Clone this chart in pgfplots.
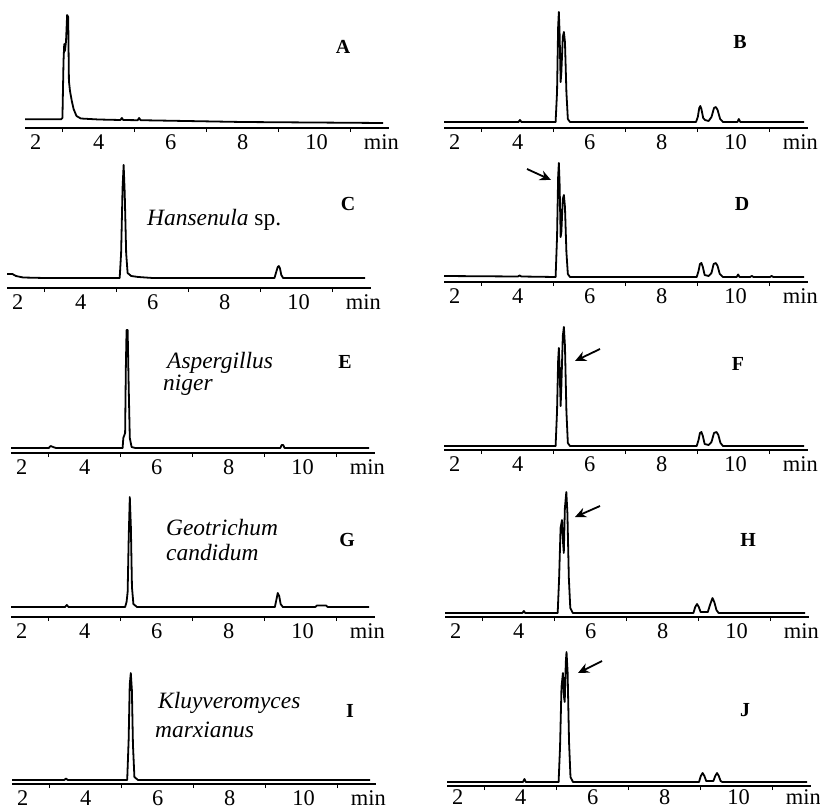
\documentclass[border=0pt]{standalone}
\usepackage{pgfplots}
\pgfplotsset{compat=1.18}
\usepackage{fontspec}
\setmainfont{Liberation Serif}
\usetikzlibrary{arrows.meta}
\pgfplotsset{
  chrom/.style={
    scale only axis, width=363.6bp, xmin=1.95, xmax=12.05, ymax=130,
    axis x line=bottom, axis y line=none,
    x axis line style={-, line width=1.5bp},
    xtick={3,5,7,9,11}, xticklabels={},
    major tick length=4bp, tick align=outside,
    major tick style={line width=1.1bp, black},
    extra x ticks={2.25,4,6,8,10.05,11.85},
    extra x tick labels={2,4,6,8,10,min},
    extra x tick style={major tick length=0pt, tick style={draw=none}},
    xticklabel style={font=\fontsize{22.5}{26}\selectfont, anchor=base, yshift=-21bp, inner sep=1bp},
    clip=false, anchor=south west,
  },
  sig/.style={black, line width=1.8bp, no markers, line join=round},
}
\tikzset{arr/.style={-{Stealth[length=11bp,width=10bp]}, line width=1.8bp, black}}
\newcommand{\spc}{\fontsize{23.5}{28}\selectfont\itshape}
\newcommand{\lab}{\fontsize{20}{22}\selectfont\bfseries}
\begin{document}
\begin{tikzpicture}
\useasboundingbox (0,0) rectangle (820bp,-810bp);
% A
\begin{axis}[chrom, at={(25bp,-128bp)}, ymin=-7, height=137bp]
\addplot[sig] coordinates {(1.95,1.7)(2.95,1.7)(2.99,3)(3.02,60)(3.04,77)(3.06,70)(3.09,80)(3.12,106)(3.15,104)(3.17,40)(3.2,30)(3.25,20)(3.3,12)(3.38,5)(3.5,2.5)(4.0,1.5)(4.6,1)(4.64,3)(4.68,1)(5.08,0.8)(5.12,3)(5.16,0.8)(8,-1)(11.9,-2)};
\end{axis}
% B
\begin{axis}[chrom, at={(444bp,-128bp)}, ymin=-6, height=136bp]
\addplot[sig] coordinates {(1.95,0)(4.02,0)(4.06,2)(4.1,0)(5.05,0)(5.09,30)(5.12,95)(5.14,110)(5.16,90)(5.19,40)(5.21,50)(5.25,85)(5.28,90)(5.31,80)(5.35,30)(5.39,3)(5.45,0)(8.95,0)(9.0,5)(9.04,14)(9.07,16)(9.1,13)(9.15,4)(9.2,2)(9.3,1)(9.38,5)(9.45,14)(9.5,15)(9.55,12)(9.62,3)(9.7,0)(10.1,0)(10.14,3)(10.18,0)(11.95,0)};
\end{axis}
% C
\begin{axis}[chrom, at={(7bp,-288bp)}, ymin=-10, height=140bp]
\addplot[sig] coordinates {(1.95,4)(2.1,4)(2.2,2)(2.4,0.5)(3,0)(5.08,0)(5.12,25)(5.16,90)(5.19,113)(5.22,85)(5.26,25)(5.3,5)(5.4,2)(5.6,1)(6,0)(9.38,0)(9.42,5)(9.47,11)(9.5,12)(9.53,10)(9.57,3)(9.62,0)(11.9,0)};
\end{axis}
% D
\begin{axis}[chrom, at={(444bp,-282bp)}, ymin=-5, height=135bp]
\addplot[sig] coordinates {(1.95,1)(4.0,0.5)(4.05,1.5)(4.1,0.5)(5.05,0)(5.09,40)(5.12,100)(5.14,114)(5.16,95)(5.19,40)(5.21,45)(5.25,78)(5.28,82)(5.31,70)(5.35,25)(5.39,3)(5.45,0)(8.97,0)(9.02,6)(9.06,13)(9.1,14)(9.14,10)(9.19,2)(9.3,1)(9.38,4)(9.44,13)(9.5,14)(9.55,11)(9.61,3)(9.7,0)(10.08,0)(10.12,2.5)(10.16,0)(10.45,0)(10.5,1)(10.55,0)(11.0,0)(11.05,1)(11.1,0)(11.95,0)};
\end{axis}
% E
\begin{axis}[chrom, at={(11bp,-453bp)}, ymin=-5, height=135bp]
\addplot[sig] coordinates {(1.95,0)(3.0,0)(3.05,2)(3.12,1)(3.2,0)(5.05,0)(5.07,10)(5.1,13)(5.12,15)(5.14,80)(5.16,118)(5.19,118)(5.22,60)(5.25,10)(5.3,1)(5.4,0)(9.43,0)(9.47,3)(9.51,3)(9.55,0)(11.9,0)};
\end{axis}
% F
\begin{axis}[chrom, at={(444bp,-450bp)}, ymin=-4, height=134bp]
\addplot[sig] coordinates {(1.95,0)(5.05,0)(5.09,35)(5.12,85)(5.14,98)(5.16,80)(5.19,40)(5.21,60)(5.25,110)(5.28,119)(5.31,100)(5.35,35)(5.39,3)(5.45,0)(8.97,0)(9.02,6)(9.06,13)(9.1,14)(9.14,10)(9.19,2)(9.3,1)(9.38,4)(9.45,13)(9.52,14)(9.57,11)(9.63,3)(9.7,0)(11.95,0)};
\end{axis}
% G
\begin{axis}[chrom, at={(11bp,-617bp)}, ymin=-10, height=140bp]
\addplot[sig] coordinates {(1.95,0)(3.45,0)(3.5,2)(3.55,0)(5.12,0)(5.16,5)(5.19,15)(5.22,70)(5.25,110)(5.28,80)(5.31,20)(5.35,3)(5.45,0)(9.28,0)(9.32,7)(9.36,14)(9.4,11)(9.44,3)(9.5,0)(10.4,0)(10.45,1.5)(10.7,1.5)(10.75,0)(11.9,0)};
\end{axis}
% H
\begin{axis}[chrom, at={(445bp,-617bp)}, ymin=-4, height=134bp]
\addplot[sig] coordinates {(1.95,0)(4.1,0)(4.14,2)(4.18,0)(5.08,0)(5.12,35)(5.16,85)(5.2,93)(5.23,70)(5.25,60)(5.28,105)(5.32,121)(5.35,100)(5.39,35)(5.43,5)(5.5,0)(8.85,0)(8.9,6)(8.95,9)(9.0,6)(9.05,1)(9.25,1)(9.31,8)(9.38,15)(9.43,11)(9.49,3)(9.55,0)(11.95,0)};
\end{axis}
% I
\begin{axis}[chrom, at={(12bp,-784bp)}, ymin=-4, height=134bp]
\addplot[sig] coordinates {(1.95,0)(3.4,0)(3.45,1.5)(3.5,0)(5.15,0)(5.19,40)(5.22,95)(5.25,107)(5.28,90)(5.31,35)(5.35,3)(5.45,0)(11.9,0)};
\end{axis}
% J
\begin{axis}[chrom, at={(447bp,-786bp)}, ymin=-4, height=134bp,
  xticklabel style={yshift=2.5bp}]
\addplot[sig] coordinates {(1.95,0)(4.06,0)(4.1,3)(4.14,0)(5.05,0)(5.09,35)(5.13,95)(5.17,109)(5.2,85)(5.22,80)(5.25,120)(5.27,130)(5.3,110)(5.34,40)(5.38,5)(5.45,0)(8.95,0)(9.0,6)(9.05,9)(9.1,6)(9.15,1)(9.35,1)(9.4,6)(9.45,9)(9.5,6)(9.55,1)(9.6,0)(11.95,0)};
\end{axis}
% arrows (picture coordinates)
\draw[arr] (527bp,-169bp) -- (551bp,-180bp);
\draw[arr] (600bp,-349bp) -- (575bp,-361bp);
\draw[arr] (600bp,-506bp) -- (575bp,-517bp);
\draw[arr] (602bp,-661bp) -- (578bp,-673bp);
% panel letters
\node[font=\lab] at (343bp,-47bp) {A};
\node[font=\lab] at (740bp,-42bp) {B};
\node[font=\lab] at (348bp,-204bp) {C};
\node[font=\lab] at (742bp,-204bp) {D};
\node[font=\lab] at (345bp,-362bp) {E};
\node[font=\lab] at (738bp,-364bp) {F};
\node[font=\lab] at (347bp,-540bp) {G};
\node[font=\lab] at (748bp,-540bp) {H};
\node[font=\lab] at (350bp,-711bp) {I};
\node[font=\lab] at (745bp,-710bp) {J};
% species
\node[anchor=base west, inner sep=0pt] at (147bp,-225bp) {\spc Hansenula\upshape{} sp.};
\node[anchor=base west, inner sep=0pt] at (167bp,-368bp) {\spc Aspergillus};
\node[anchor=base west, inner sep=0pt] at (163bp,-390bp) {\spc niger};
\node[anchor=base west, inner sep=0pt] at (166bp,-535bp) {\spc Geotrichum};
\node[anchor=base west, inner sep=0pt] at (166bp,-560bp) {\spc candidum};
\node[anchor=base west, inner sep=0pt] at (158bp,-708bp) {\spc Kluyveromyces};
\node[anchor=base west, inner sep=0pt] at (155bp,-737bp) {\spc marxianus};
\end{tikzpicture}
\end{document}
